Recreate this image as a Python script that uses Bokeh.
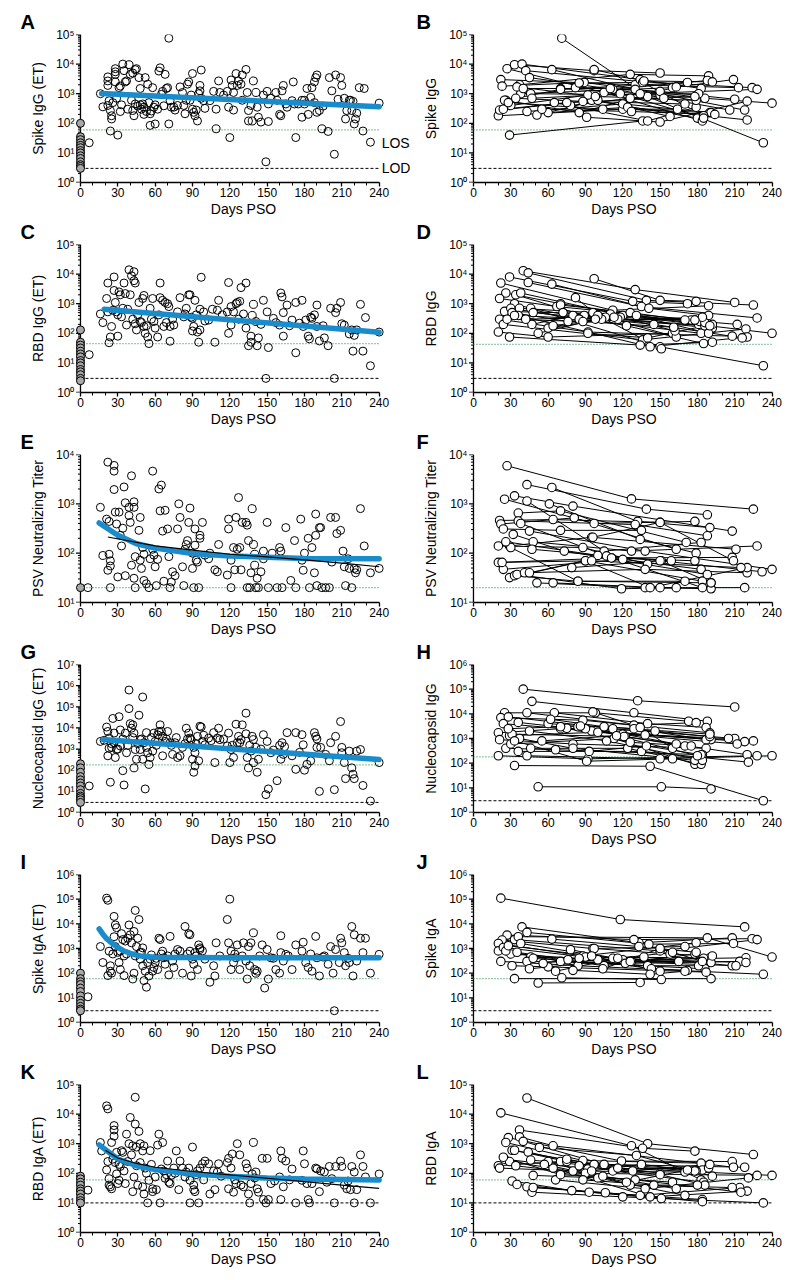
from bokeh.plotting import figure
from bokeh.layouts import column, row
from bokeh.models import FixedTicker, Range1d, Label, Spacer
from bokeh.embed import file_html
from bokeh.resources import INLINE

FONT = "Liberation Sans"
BLUE = "#1a8ccc"
GREEN = "#2f9a55"
GREY = "#a8a8a8"
XEND = 240
X_TICKS = [0, 30, 60, 90, 120, 150, 180, 210, 240]
X_LABEL = "Days PSO"

# ---------------- panel A : Spike IgG (ET) ----------------
A_zero = [100, 35, 28, 22, 18, 15, 12, 10, 8, 6.5, 5, 4, 3.5, 3]
A_points = [(7, 22), (16, 1000), (18, 360), (22, 3700), (22, 2700), (22, 1900), (23, 580), (24, 270), (25, 180),
            (25, 140), (24, 55), (28, 7000), (28, 5500), (28, 4500), (28, 2500), (29, 700), (30, 40), (31, 1600),
            (32, 1800), (32, 250), (34, 10000), (35, 6000), (36, 2500), (37, 2700), (39, 9500), (40, 4500),
            (42, 5000), (44, 6500), (45, 7000), (41, 600), (42, 270), (43, 180), (47, 3500), (48, 1500), (50, 450),
            (51, 350), (51, 200), (52, 3500), (54, 2100), (55, 500), (56, 85), (56, 210), (59, 350), (58, 1600),
            (60, 95), (63, 5800), (64, 7500), (66, 1200), (67, 390), (68, 4500), (71, 75000), (71, 95), (70, 1600),
            (72, 580), (75, 350), (76, 280), (80, 1700), (83, 400), (84, 210), (86, 2100), (87, 2500), (88, 600),
            (90, 300), (90, 4800), (91, 235), (92, 180), (94, 120), (95, 1000), (96, 1900), (96, 1250), (97, 6300),
            (99, 580), (104, 580), (107, 1200), (109, 65), (109, 300), (111, 2700), (112, 1100), (118, 1200),
            (119, 350), (120, 33), (121, 2900), (122, 1900), (123, 280), (123, 1100), (125, 4800), (126, 1900),
            (127, 2700), (129, 2100), (130, 4300), (133, 6600), (134, 1100), (135, 270), (135, 120), (138, 120),
            (139, 2700), (141, 1100), (142, 350), (143, 160), (145, 110), (149, 5), (150, 1200), (151, 450),
            (151, 115), (157, 1100), (158, 600), (160, 200), (161, 180), (162, 1250), (163, 1900), (165, 450),
            (170, 580), (171, 2500), (173, 33), (175, 450), (178, 160), (180, 600), (180, 450), (182, 1500),
            (183, 200), (185, 750), (186, 1600), (188, 2500), (189, 3500), (190, 4300), (190, 235), (192, 270),
            (194, 65), (199, 53), (200, 3500), (202, 1250), (204, 9), (205, 4300), (209, 3500), (210, 1900),
            (212, 700), (213, 140), (214, 270), (216, 600), (217, 600), (218, 270), (220, 95), (221, 140),
            (224, 1600), (228, 1500), (227, 55), (233, 23), (240, 480), (22, 400), (26, 500), (33, 420), (38, 300),
            (44, 450), (46, 380), (48, 420), (49, 300), (53, 250), (57, 260), (60, 420), (62, 300), (65, 950),
            (69, 1500), (73, 350), (78, 400), (82, 1100), (85, 600), (89, 900), (93, 280), (97, 700), (100, 320),
            (115, 900), (130, 600), (137, 400), (147, 900), (153, 700), (166, 350), (172, 450), (178, 600),
            (188, 500), (195, 380), (207, 650), (219, 550), (222, 220)]
A_fit_days = [17, 240]
A_fit_vals = [1020, 365]

# ---------------- panel C : RBD IgG (ET) ----------------
C_zero = [130, 50, 40, 32, 25, 20, 16, 12, 10, 8, 6, 5, 4, 3, 2.5]
C_points = [(7, 19), (16, 450), (18, 230), (21, 1500), (22, 5000), (22, 530), (23, 48), (24, 75), (25, 170),
            (27, 8000), (27, 2800), (28, 1100), (29, 530), (30, 80), (31, 2500), (32, 2000), (33, 360), (35, 5000),
            (36, 2200), (37, 190), (39, 14000), (40, 2000), (41, 8800), (43, 6000), (44, 5000), (43, 12000),
            (44, 210), (45, 130), (47, 1100), (48, 250), (50, 1500), (51, 1900), (51, 170), (52, 100), (54, 75),
            (55, 45), (56, 700), (58, 1500), (59, 250), (60, 150), (62, 75), (64, 1600), (64, 5000), (66, 1300),
            (67, 170), (68, 1100), (70, 1000), (71, 800), (72, 170), (72, 54), (75, 190), (78, 530), (80, 1600),
            (83, 360), (85, 700), (87, 2000), (88, 2000), (90, 320), (90, 120), (91, 170), (92, 1300), (94, 110),
            (95, 50), (96, 130), (97, 7800), (96, 650), (99, 530), (103, 280), (106, 650), (108, 50), (110, 600),
            (111, 1300), (118, 530), (119, 5200), (119, 100), (121, 800), (121, 190), (123, 530), (125, 1000),
            (126, 1100), (128, 1200), (129, 3500), (133, 5000), (133, 150), (135, 38), (137, 50), (137, 80),
            (138, 400), (139, 950), (141, 250), (142, 38), (143, 70), (147, 1300), (149, 3), (150, 530), (151, 33),
            (155, 320), (160, 190), (161, 2300), (162, 1700), (163, 500), (163, 80), (166, 900), (170, 280),
            (173, 22), (173, 1100), (178, 1300), (179, 170), (181, 280), (183, 80), (184, 65), (186, 320),
            (188, 420), (190, 900), (190, 170), (192, 55), (196, 70), (199, 38), (201, 700), (204, 3), (205, 500),
            (206, 700), (209, 1100), (210, 210), (212, 190), (216, 95), (218, 130), (219, 25), (220, 85),
            (222, 130), (225, 950), (227, 25), (229, 340), (233, 8), (240, 110), (26, 600), (30, 420), (34, 700),
            (38, 650), (42, 300), (46, 420), (49, 230), (53, 180), (57, 300), (63, 420), (69, 230), (74, 300),
            (84, 450), (89, 350), (93, 420), (100, 260), (114, 420), (127, 300), (131, 450), (145, 200), (157, 230),
            (168, 180), (176, 220), (185, 350), (195, 180)]
C_fit_days = [19, 240]
C_fit_vals = [650, 108]

# ---------------- panel E : PSV Neutralizing Titer ----------------
E_zero = [20]
E_points = [(6, 20), (16, 850), (18, 90), (21, 490), (22, 7000), (23, 440), (22, 45), (23, 95), (24, 70),
            (24, 20), (24, 55), (27, 6000), (27, 4600), (27, 1950), (28, 680), (29, 390), (30, 33), (31, 680),
            (32, 230), (33, 140), (34, 320), (35, 2200), (36, 1050), (36, 35), (39, 850), (39, 580), (40, 420),
            (41, 3700), (43, 1100), (43, 850), (41, 57), (43, 31), (44, 20), (44, 85), (47, 290), (48, 530),
            (48, 72), (49, 49), (50, 130), (51, 95), (51, 28), (53, 24), (55, 20), (56, 77), (58, 120), (58, 4600),
            (59, 91), (60, 53), (61, 22), (62, 75), (63, 2000), (65, 2400), (64, 720), (66, 280), (67, 27),
            (68, 740), (70, 310), (71, 85), (72, 20), (73, 26), (74, 42), (76, 35), (78, 310), (79, 1000),
            (80, 530), (82, 53), (83, 22), (84, 120), (85, 150), (86, 180), (87, 420), (88, 820), (90, 100),
            (90, 49), (91, 20), (92, 310), (92, 145), (93, 72), (94, 66), (95, 20), (96, 230), (96, 200), (98, 420),
            (100, 91), (103, 77), (104, 100), (108, 46), (110, 42), (111, 150), (118, 36), (119, 490), (119, 310),
            (121, 20), (121, 72), (123, 130), (124, 46), (125, 530), (126, 120), (127, 1340), (128, 130), (129, 46),
            (130, 420), (133, 420), (134, 20), (134, 370), (135, 180), (136, 20), (137, 40), (138, 800), (139, 150),
            (140, 95), (140, 57), (141, 20), (142, 31), (143, 20), (145, 42), (147, 110), (147, 77), (150, 420),
            (151, 20), (154, 100), (158, 20), (160, 130), (161, 110), (162, 20), (165, 330), (169, 28), (172, 180),
            (173, 20), (177, 490), (178, 72), (180, 100), (179, 45), (183, 200), (184, 20), (186, 130), (188, 40),
            (189, 620), (189, 230), (190, 22), (192, 330), (193, 330), (194, 20), (197, 20), (200, 20), (201, 530),
            (202, 66), (205, 530), (206, 250), (209, 290), (211, 110), (212, 53), (213, 22), (215, 77), (216, 49),
            (218, 20), (220, 49), (221, 40), (222, 46), (225, 800), (228, 140), (233, 40), (240, 49)]
E_fit_days = [15, 30, 45, 60, 90, 120, 150, 180, 240]
E_fit_vals = [410, 230, 155, 127, 98, 88, 83, 78, 77]
E_fit2_days = [22, 60, 90, 120, 150, 180, 210, 240]
E_fit2_vals = [213, 140, 115, 95, 84, 73, 63, 53]

# ---------------- panel G : Nucleocapsid IgG (ET) ----------------
G_zero = [200, 130, 80, 50, 35, 25, 18, 12, 8, 6, 5, 4, 3]
G_points = [(7, 18), (16, 2300), (19, 2600), (21, 11000), (22, 6800), (23, 3300), (23, 1100), (22, 480), (24, 27),
            (25, 1200), (26, 28000), (27, 5700), (27, 2000), (28, 400), (29, 950), (31, 34000), (32, 8000),
            (32, 1400), (34, 95), (35, 20), (36, 5700), (37, 670), (39, 620000), (39, 82000), (40, 16000),
            (41, 9700), (42, 14000), (43, 5700), (43, 130), (44, 950), (45, 330), (47, 40000), (48, 2800),
            (48, 950), (50, 290000), (50, 330), (51, 2000), (52, 13), (53, 6000), (54, 670), (55, 190), (56, 400),
            (58, 800), (59, 5700), (60, 2300), (62, 4700), (63, 6800), (64, 14000), (66, 4000), (66, 480),
            (68, 2300), (70, 6800), (72, 2000), (74, 560), (76, 2000), (78, 400), (80, 480), (82, 1200), (85, 9700),
            (87, 5700), (88, 3300), (89, 2800), (90, 330), (91, 80), (91, 1200), (92, 670), (92, 160), (94, 4000),
            (95, 280), (96, 12000), (97, 11000), (98, 2300), (100, 1600), (103, 3300), (107, 6000), (108, 230),
            (110, 3300), (111, 9700), (112, 2800), (118, 1400), (119, 5700), (120, 230), (121, 950), (123, 400),
            (125, 15000), (126, 2000), (127, 4000), (129, 2800), (130, 14000), (133, 50000), (133, 5300), (134, 400),
            (135, 130), (137, 800), (138, 4000), (139, 2800), (139, 230), (141, 1200), (142, 80), (143, 330),
            (147, 4800), (149, 7), (150, 2300), (151, 13), (153, 670), (158, 32), (160, 1500), (161, 330),
            (162, 2000), (163, 560), (166, 6000), (170, 480), (173, 110), (173, 6000), (178, 4800), (179, 1600),
            (180, 100), (182, 190), (185, 280), (188, 6000), (189, 4000), (190, 1200), (190, 3000), (192, 10),
            (193, 1200), (197, 560), (200, 280), (201, 2000), (204, 12), (205, 4000), (209, 20000), (210, 1200),
            (210, 670), (212, 230), (213, 40), (216, 800), (218, 130), (219, 65), (220, 40), (222, 800), (225, 950),
            (227, 19), (233, 3.5), (240, 230), (25, 1800), (30, 1000), (34, 3000), (38, 1500), (42, 3500),
            (46, 1800), (49, 3000), (53, 1200), (57, 3500), (61, 1500), (65, 7000), (69, 3000), (73, 1500),
            (77, 3500), (84, 1800), (86, 3000), (93, 1800), (99, 4500), (105, 2500), (115, 3000), (122, 1500),
            (128, 2000), (136, 1500), (145, 1000), (155, 900), (164, 1300), (176, 700)]
G_fit_days = [18, 240]
G_fit_vals = [2800, 320]

# ---------------- panel I : Spike IgA (ET) ----------------
I_zero = [100, 60, 45, 35, 25, 18, 12, 8, 6, 4.5, 3.5, 3]
I_points = [(6, 11), (16, 1200), (18, 270), (21, 110000), (22, 90000), (22, 80), (23, 780), (24, 200), (24, 120),
            (25, 100), (27, 20000), (27, 3000), (28, 9000), (28, 1200), (29, 7000), (31, 270), (32, 780), (32, 140),
            (33, 4000), (34, 2300), (35, 80), (35, 500), (36, 2000), (38, 2600), (39, 9000), (40, 3600), (41, 1700),
            (42, 58), (43, 4900), (43, 100), (44, 35000), (45, 1200), (46, 2600), (47, 15000), (48, 370), (48, 680),
            (50, 1060), (50, 200), (51, 50), (52, 120), (53, 27), (54, 270), (55, 77), (56, 370), (58, 120),
            (59, 170), (60, 270), (62, 140), (63, 2600), (64, 2300), (66, 780), (67, 420), (68, 230), (71, 85),
            (72, 3100), (74, 310), (75, 170), (78, 910), (80, 780), (82, 100), (84, 7800), (87, 4000), (88, 3600),
            (88, 780), (89, 77), (90, 370), (91, 230), (92, 680), (94, 140), (95, 1400), (96, 1060), (96, 910),
            (100, 370), (104, 43), (107, 200), (108, 77), (109, 1700), (118, 15000), (119, 1700), (120, 100000),
            (121, 780), (121, 140), (123, 270), (125, 420), (126, 1400), (128, 140), (130, 500), (131, 1700),
            (133, 310), (134, 58), (135, 1200), (136, 200), (137, 1700), (139, 4300), (140, 140), (141, 100),
            (142, 120), (146, 1400), (148, 25), (150, 910), (151, 58), (153, 420), (157, 140), (160, 100),
            (161, 680), (161, 3300), (163, 310), (165, 580), (170, 140), (173, 1400), (178, 780), (179, 1800),
            (181, 270), (183, 170), (186, 120), (189, 3100), (190, 420), (192, 77), (196, 500), (199, 230),
            (201, 1200), (203, 100), (204, 3), (205, 910), (208, 270), (209, 2600), (210, 1700), (212, 680),
            (213, 200), (216, 270), (218, 7800), (219, 77), (220, 3600), (222, 310), (225, 2600), (229, 2600),
            (227, 680), (233, 100), (240, 580), (26, 600), (30, 700), (37, 600), (44, 500), (49, 700), (57, 550),
            (61, 400), (65, 600), (70, 500), (76, 600), (86, 600), (93, 500), (98, 800), (112, 500), (124, 600),
            (144, 500), (155, 400), (167, 500), (185, 600), (195, 450), (215, 400)]
I_fit_days = [15, 18, 21, 25, 30, 35, 40, 45, 50, 60, 75, 90, 120, 180, 240]
I_fit_vals = [6200, 3800, 2500, 1700, 1100, 790, 640, 540, 480, 440, 430, 430, 425, 420, 420]

# ---------------- panel K : RBD IgA (ET) ----------------
K_zero = [80, 65, 50, 40, 30, 25, 20, 15, 12, 10]
K_points = [(6, 27), (16, 1100), (17, 570), (21, 130), (21, 19000), (22, 15000), (22, 250), (23, 40), (23, 66),
            (24, 35), (25, 1100), (25, 30), (27, 4100), (27, 2900), (27, 1800), (28, 230), (29, 510), (29, 95),
            (30, 45), (31, 58), (32, 170), (33, 580), (34, 510), (35, 120), (36, 45), (37, 2100), (39, 1000),
            (40, 7700), (41, 420), (42, 850), (42, 24), (43, 75), (44, 37000), (44, 4600), (45, 770), (46, 40),
            (47, 2600), (48, 230), (48, 1000), (50, 570), (50, 35), (51, 850), (51, 20), (52, 150), (54, 10),
            (55, 58), (56, 580), (58, 24), (58, 30), (60, 75), (61, 28), (62, 900), (63, 2100), (64, 10),
            (66, 1100), (67, 120), (68, 68), (70, 260), (71, 50), (72, 45), (73, 85), (75, 150), (77, 570),
            (79, 28), (80, 260), (82, 150), (84, 75), (87, 150), (88, 10), (88, 58), (90, 770), (91, 40), (91, 28),
            (92, 24), (94, 120), (95, 10), (96, 150), (98, 210), (100, 260), (103, 210), (104, 20), (107, 120),
            (108, 28), (110, 110), (111, 210), (118, 230), (119, 320), (119, 30), (121, 150), (122, 450), (123, 23),
            (125, 45), (126, 1000), (128, 420), (129, 40), (131, 35), (133, 210), (134, 150), (135, 20), (136, 10),
            (137, 45), (138, 95), (139, 1100), (141, 110), (142, 30), (143, 23), (146, 320), (147, 13), (149, 10),
            (150, 320), (151, 13), (153, 45), (160, 75), (161, 13), (161, 570), (162, 320), (163, 35), (165, 260),
            (170, 140), (173, 10), (178, 58), (179, 570), (180, 210), (183, 13), (184, 10), (186, 45), (189, 150),
            (190, 140), (192, 24), (193, 120), (196, 110), (200, 170), (202, 66), (204, 10), (205, 170), (209, 260),
            (210, 170), (212, 40), (214, 30), (217, 28), (218, 170), (220, 10), (220, 110), (222, 28), (225, 420),
            (227, 170), (229, 75), (233, 10), (240, 95), (26, 300), (31, 200), (38, 250), (45, 180), (53, 100),
            (57, 200), (65, 140), (69, 90), (76, 100), (85, 110), (93, 90), (99, 60), (113, 80), (124, 60),
            (140, 70), (156, 55), (168, 60), (182, 45), (198, 50), (215, 55)]
K_fit_days = [15, 30, 45, 60, 90, 120, 150, 180, 240]
K_fit_vals = [910, 305, 180, 133, 94, 79, 69, 64, 59]
K_fit2_days = [20, 30, 45, 60, 90, 120, 150, 180, 210, 240]
K_fit2_vals = [600, 330, 215, 160, 115, 88, 68, 52, 40, 31]

# ---------------- right panels : paired subjects (days, values) ----------------
B_subjects = [([29, 136], [40, 120]), ([71, 140, 233], [75000, 800, 22]), ([20, 120, 190], [180, 300, 230]),
              ([21, 95, 180], [280, 600, 150]), ([22, 130, 213], [3000, 2000, 1600]), ([23, 89, 186], [1800, 2400, 700]),
              ([27, 105, 184], [7000, 1100, 120]), ([33, 97, 150], [9500, 6000, 5000]), ([37, 126, 189], [2000, 4500, 4000]),
              ([38, 160, 209], [1000, 1600, 3000]), ([39, 134, 183], [10000, 3000, 1500]), ([42, 137, 224], [6000, 2500, 1600]),
              ([43, 120, 191], [250, 450, 230]), ([45, 112, 188], [3500, 1400, 2800]), ([46, 150, 240], [1000, 900, 480]),
              ([51, 100, 158], [190, 600, 170]), ([60, 124, 220], [230, 350, 130]), ([63, 130, 218], [6500, 1400, 280]),
              ([65, 140, 179], [500, 120, 350]), ([70, 134, 228], [1500, 1000, 1400]), ([78, 126, 179], [400, 700, 600]),
              ([82, 150, 210], [1600, 1200, 650]), ([85, 136, 185], [2300, 2400, 180]), ([91, 150, 220], [160, 110, 560]),
              ([97, 137, 192], [6500, 2700, 2500]), ([26, 70, 172], [600, 1400, 2400]), ([25, 85, 163], [600, 230, 1700]),
              ([30, 92, 181], [400, 900, 1000]), ([35, 98, 153], [1700, 800, 700]), ([24, 75, 178], [300, 500, 800]),
              ([28, 104, 164], [500, 300, 300]), ([34, 88, 170], [700, 550, 450]), ([40, 110, 206], [1500, 1500, 280]),
              ([47, 118, 185], [700, 1000, 150]), ([55, 127, 194], [300, 250, 200])]

D_subjects = [([40, 130, 210], [13000, 3000, 1100]), ([44, 139, 225], [11000, 1300, 900]), ([97, 150, 179], [7000, 1300, 1200]),
              ([29, 128, 172], [8000, 1200, 1000]), ([22, 112, 189], [5000, 600, 850]), ([44, 135, 228], [5200, 800, 330]),
              ([63, 141, 189], [4600, 700, 400]), ([26, 70, 181], [2300, 1000, 200]), ([21, 67, 178], [1500, 800, 280]),
              ([34, 89, 192], [2000, 400, 150]), ([38, 120, 240], [2300, 400, 100]), ([33, 150, 233], [1000, 35, 8]),
              ([25, 110, 212], [550, 450, 200]), ([30, 85, 183], [700, 300, 100]), ([21, 92, 208], [300, 110, 80]),
              ([24, 136, 219], [200, 60, 140]), ([20, 60, 160], [110, 75, 100]), ([29, 134, 192], [75, 40, 50]),
              ([37, 96, 182], [700, 500, 250]), ([36, 142, 220], [400, 35, 75]), ([46, 123, 185], [700, 180, 45]),
              ([47, 80, 186], [200, 400, 180]), ([52, 106, 163], [100, 350, 75]), ([60, 118, 162], [150, 350, 120]),
              ([64, 103, 175], [180, 300, 280]), ([70, 126, 186], [900, 500, 230]), ([72, 116, 170], [500, 300, 280]),
              ([82, 100, 151], [1600, 400, 30]), ([85, 131, 189], [300, 400, 100]), ([92, 140, 192], [100, 70, 200]),
              ([31, 76, 184], [500, 250, 350]), ([27, 88, 161], [300, 250, 160]), ([42, 113, 178], [300, 350, 280]),
              ([48, 145, 216], [500, 200, 70]), ([33, 98, 190], [400, 300, 180])]

F_subjects = [([27, 127, 225], [5900, 1260, 780]), ([43, 139, 188], [2450, 780, 600]), ([63, 132, 190], [2150, 440, 330]),
              ([25, 97, 178], [1240, 400, 440]), ([33, 80, 208], [1450, 900, 280]), ([43, 105, 183], [1140, 110, 165]),
              ([36, 70, 171], [650, 720, 165]), ([36, 130, 188], [450, 380, 225]), ([21, 64, 150], [460, 480, 420]),
              ([22, 81, 163], [390, 520, 120]), ([24, 70, 135], [310, 290, 290]), ([20, 88, 140], [140, 130, 60]),
              ([29, 95, 211], [140, 210, 120]), ([20, 111, 208], [65, 80, 82]), ([24, 120, 183], [47, 75, 47]),
              ([29, 90, 184], [32, 70, 27]), ([33, 84, 191], [35, 27, 25]), ([35, 119, 163], [37, 19, 20]),
              ([41, 138, 220], [40, 47, 40]), ([45, 107, 184], [40, 88, 20]), ([51, 138, 191], [25, 20, 19]),
              ([64, 150, 218], [25, 20, 20]), ([48, 127, 228], [170, 110, 140]), ([61, 134, 179], [1000, 190, 100]),
              ([79, 151, 232], [51, 70, 42]), ([90, 142, 220], [70, 20, 51]), ([96, 150, 209], [210, 420, 70]),
              ([45, 138, 240], [280, 110, 47]), ([30, 84, 170], [130, 27, 27]), ([38, 111, 178], [400, 80, 70]),
              ([26, 100, 159], [170, 90, 70]), ([32, 73, 188], [240, 110, 37]), ([23, 95, 215], [65, 70, 51]),
              ([47, 150, 191], [120, 70, 25])]

H_subjects = [([40, 132, 210], [100000, 34000, 19000]), ([47, 129, 188], [32000, 11000, 5000]), ([52, 151, 191], [11, 11, 9]),
              ([33, 142, 233], [80, 75, 3]), ([25, 98, 173], [11000, 11000, 5000]), ([43, 129, 179], [11000, 3500, 4400]),
              ([65, 140, 187], [11000, 4000, 2800]), ([22, 88, 190], [7000, 5500, 1700]), ([28, 112, 210], [7500, 2500, 1000]),
              ([36, 120, 225], [4500, 1500, 800]), ([24, 95, 191], [4000, 2000, 900]), ([20, 70, 218], [1700, 2500, 750]),
              ([29, 100, 212], [1300, 1800, 600]), ([21, 80, 187], [900, 600, 400]), ([31, 122, 220], [1500, 1200, 220]),
              ([26, 66, 184], [400, 350, 220]), ([20, 92, 228], [200, 150, 200]), ([43, 150, 240], [200, 150, 200]),
              ([30, 113, 178], [600, 1000, 90]), ([46, 124, 183], [400, 400, 90]), ([36, 135, 221], [300, 300, 110]),
              ([37, 80, 178], [1000, 400, 130]), ([45, 107, 184], [2000, 800, 130]), ([33, 91, 160], [800, 120, 150]),
              ([60, 129, 187], [4000, 2500, 900]), ([75, 146, 190], [2600, 2000, 1200]), ([84, 121, 170], [3000, 1200, 500]),
              ([90, 138, 205], [2500, 1400, 1000]), ([93, 139, 183], [300, 500, 220]), ([96, 134, 160], [12000, 2800, 400]),
              ([70, 126, 175], [3000, 700, 500]), ([55, 115, 180], [800, 1300, 200]), ([62, 105, 190], [6000, 3000, 1500]),
              ([28, 86, 163], [2500, 3200, 600])]

J_subjects = [([22, 118, 218], [110000, 15000, 7500]), ([33, 191], [60, 60]), ([52, 134], [40, 42]), ([71, 151], [65, 55]),
              ([39, 133, 208], [7500, 1700, 2700]), ([43, 141, 209], [4500, 1500, 1600]), ([27, 129, 224], [3500, 2300, 2500]),
              ([33, 150, 228], [2300, 800, 2300]), ([36, 188, 240], [3000, 2700, 450]), ([23, 96, 170], [2200, 1000, 1200]),
              ([20, 88, 179], [1600, 500, 1700]), ([20, 105, 178], [800, 200, 600]), ([24, 90, 190], [1100, 450, 420]),
              ([30, 100, 191], [600, 350, 270]), ([26, 70, 186], [800, 300, 150]), ([31, 60, 187], [200, 180, 110]),
              ([22, 84, 233], [300, 200, 90]), ([46, 120, 219], [450, 350, 420]), ([43, 122, 214], [300, 250, 300]),
              ([45, 137, 208], [150, 450, 200]), ([35, 76, 211], [700, 350, 200]), ([28, 112, 219], [1300, 400, 270]),
              ([38, 127, 185], [1600, 300, 400]), ([48, 140, 181], [400, 200, 200]), ([63, 133, 179], [2400, 1200, 700]),
              ([78, 126, 165], [900, 300, 300]), ([85, 143, 172], [400, 150, 130]), ([97, 158, 192], [1000, 600, 500]),
              ([66, 116, 160], [120, 400, 700]), ([56, 95, 150], [250, 500, 120]), ([104, 150, 184], [150, 1000, 300]),
              ([80, 142, 170], [130, 90, 120])]

L_subjects = [([43, 140, 225], [35000, 1000, 430]), ([22, 127, 183], [11000, 850, 60]), ([37, 136, 178], [2900, 700, 560]),
              ([28, 119, 208], [1600, 260, 250]), ([26, 88, 183], [1100, 270, 220]), ([37, 64, 209], [1700, 850, 160]),
              ([40, 105, 218], [1200, 200, 160]), ([53, 131, 192], [750, 400, 80]), ([20, 70, 184], [180, 250, 130]),
              ([21, 80, 170], [150, 120, 110]), ([25, 92, 189], [300, 140, 150]), ([31, 97, 179], [600, 200, 120]),
              ([33, 75, 150], [600, 250, 100]), ([44, 112, 185], [520, 120, 50]), ([31, 79, 151], [55, 26, 14]),
              ([35, 93, 184], [42, 23, 13]), ([43, 106, 184], [35, 22, 11]), ([47, 120, 233], [23, 16, 10]),
              ([48, 134, 214], [33, 18, 33]), ([48, 100, 170], [85, 70, 18]), ([64, 142, 220], [150, 16, 25]),
              ([70, 130, 215], [100, 60, 23]), ([60, 126, 208], [250, 40, 33]), ([46, 116, 240], [280, 150, 85]),
              ([29, 90, 228], [250, 100, 85]), ([66, 138, 221], [60, 30, 70]), ([75, 128, 190], [300, 120, 200]),
              ([85, 150, 186], [180, 90, 40]), ([95, 135, 178], [120, 200, 120]), ([24, 70, 160], [350, 90, 50]),
              ([34, 104, 163], [180, 80, 30]), ([57, 123, 172], [200, 50, 130]), ([88, 145, 180], [60, 40, 40])]

LOS_LABEL_Y = 22

# panel meta: letter, y label, y decades, LOS, LOD, data
PANELS_LEFT = [
    ("A", "Spike IgG (ET)", (0, 5), 60, 3, A_zero, A_points, [(A_fit_days, A_fit_vals, BLUE)]),
    ("C", "RBD IgG (ET)", (0, 5), 45, 3, C_zero, C_points, [(C_fit_days, C_fit_vals, BLUE)]),
    ("E", "PSV Neutralizing Titer", (1, 4), 20, None, E_zero, E_points,
     [(E_fit_days, E_fit_vals, BLUE), (E_fit2_days, E_fit2_vals, "black")]),
    ("G", "Nucleocapsid IgG (ET)", (0, 7), 180, 3, G_zero, G_points, [(G_fit_days, G_fit_vals, BLUE)]),
    ("I", "Spike IgA (ET)", (0, 6), 60, 3, I_zero, I_points, [(I_fit_days, I_fit_vals, BLUE)]),
    ("K", "RBD IgA (ET)", (0, 5), 60, 10, K_zero, K_points,
     [(K_fit_days, K_fit_vals, BLUE), (K_fit2_days, K_fit2_vals, "black")]),
]
PANELS_RIGHT = [
    ("B", "Spike IgG", (0, 5), 60, 3, B_subjects),
    ("D", "RBD IgG", (0, 5), 42, 3, D_subjects),
    ("F", "PSV Neutralizing Titer", (1, 4), 20, None, F_subjects),
    ("H", "Nucleocapsid IgG", (0, 6), 180, 3, H_subjects),
    ("J", "Spike IgA", (0, 6), 60, 3, J_subjects),
    ("L", "RBD IgA", (0, 5), 60, 10, L_subjects),
]

SUP = {0: "\u2070", 1: "\u00b9", 2: "\u00b2", 3: "\u00b3", 4: "\u2074", 5: "\u2075", 6: "\u2076", 7: "\u2077"}

FIG_H = 210
TOP = 23
FRAME_H = 149
PX_PER_DAY = 1.2437


def base_fig(left, letter, ylabel, dec):
    x0 = -4
    x1 = 266 if left else 246
    bl = 75 if left else 56
    fw = int(round((x1 - x0) * PX_PER_DAY))
    br = 1 if left else 8
    w = bl + fw + br
    p = figure(width=w, height=FIG_H, x_range=Range1d(x0, x1),
               y_range=Range1d(10 ** dec[0], 10 ** dec[1]), y_axis_type="log",
               output_backend="svg", toolbar_location=None,
               min_border_left=bl, min_border_right=br,
               min_border_top=TOP, min_border_bottom=FIG_H - TOP - FRAME_H)
    p.grid.visible = False
    p.outline_line_color = None
    xa = p.xaxis[0]
    ya = p.yaxis[0]
    xa.ticker = FixedTicker(ticks=X_TICKS, minor_ticks=[t for t in range(0, 241, 10) if t % 30])
    xa.bounds = (0, XEND)
    majors = [10 ** k for k in range(dec[0], dec[1] + 1)]
    minors = [m * 10 ** k for k in range(dec[0], dec[1]) for m in range(2, 10)]
    ya.ticker = FixedTicker(ticks=majors, minor_ticks=minors)
    ov = {}
    for k in range(dec[0], dec[1] + 1):
        ov[10 ** k] = "10" + SUP[k]
        ov[str(10 ** k)] = "10" + SUP[k]
    ya.major_label_overrides = ov
    for ax in (xa, ya):
        ax.axis_line_width = 1.3
        ax.axis_line_color = "black"
        ax.major_tick_line_width = 1.3
        ax.minor_tick_line_width = 1
        ax.major_tick_out = 4
        ax.major_tick_in = 0
        ax.minor_tick_out = 3
        ax.minor_tick_in = 0
        ax.major_label_text_font = FONT
        ax.major_label_text_font_size = "12px"
        ax.major_label_text_color = "black"
        ax.major_label_standoff = 1
        ax.axis_label_text_font = FONT
        ax.axis_label_text_font_size = "14px"
        ax.axis_label_text_font_style = "normal"
        ax.axis_label_text_color = "black"
    xa.axis_label = X_LABEL
    xa.axis_label_standoff = 1
    # y axis: drawn at day 0 with glyphs; the Bokeh axis only carries labels
    ya.axis_line_color = None
    ya.major_tick_line_color = None
    ya.minor_tick_line_color = None
    ya.major_tick_out = 0
    ya.minor_tick_out = 0
    ya.major_label_standoff = 1
    ya.axis_label = ylabel
    ya.axis_label_standoff = 7
    maj_len = 4.5 / PX_PER_DAY
    min_len = 2.5 / PX_PER_DAY
    p.line([0, 0], [majors[0], majors[-1]], line_color="black", line_width=1.3)
    p.segment([0] * len(majors), majors, [-maj_len] * len(majors), majors, line_color="black", line_width=1.3)
    p.segment([0] * len(minors), minors, [-min_len] * len(minors), minors, line_color="black", line_width=1)
    # panel letter as title
    t = p.title
    t.text = letter
    t.align = "left"
    t.offset = (20 if left else 4) - bl
    t.text_font = FONT
    t.text_font_size = "20px"
    t.text_font_style = "bold"
    t.text_color = "black"
    t.vertical_align = "top"
    try:
        t.standoff = 0
    except Exception:
        pass
    return p


def ref_lines(p, los, lod):
    if los is not None:
        p.line([0, XEND], [los, los], line_color=GREEN, line_width=1.3, line_dash="1 2")
    if lod is not None:
        p.line([0, XEND], [lod, lod], line_color="black", line_width=1, line_dash="3 2")


lefts = []
for letter, ylabel, dec, los, lod, zero, pts, fits in PANELS_LEFT:
    p = base_fig(True, letter, ylabel, dec)
    ref_lines(p, los, lod)
    p.scatter([d for d, v in pts], [v for d, v in pts], size=8, marker="circle",
              fill_color=None, line_color="black", line_width=1)
    p.scatter([0] * len(zero), zero, size=8, marker="circle",
              fill_color=GREY, line_color="black", line_width=1)
    for fd, fv, col in fits:
        if col == BLUE:
            p.line(fd, fv, line_color=BLUE, line_width=5.5, line_cap="round")
        else:
            p.line(fd, fv, line_color="black", line_width=1.2)
    if letter == "A":
        p.add_layout(Label(x=242, y=LOS_LABEL_Y, text="LOS", text_font=FONT, text_font_size="14px",
                           text_baseline="middle", text_align="left", text_color="black"))
        p.add_layout(Label(x=242, y=lod, text="LOD", text_font=FONT, text_font_size="14px",
                           text_baseline="middle", text_align="left", text_color="black"))
    lefts.append(p)

rights = []
for letter, ylabel, dec, los, lod, subjects in PANELS_RIGHT:
    p = base_fig(False, letter, ylabel, dec)
    ref_lines(p, los, lod)
    p.multi_line([s[0] for s in subjects], [s[1] for s in subjects], line_color="black", line_width=1)
    xs = [d for s in subjects for d in s[0]]
    ys = [v for s in subjects for v in s[1]]
    p.scatter(xs, ys, size=8.5, marker="circle", fill_color="white", line_color="black", line_width=1.1)
    rights.append(p)

layout = column([Spacer(height=10, width=10)] + [row(l, r) for l, r in zip(lefts, rights)])
open("out.html", "w").write(file_html(layout, INLINE))
